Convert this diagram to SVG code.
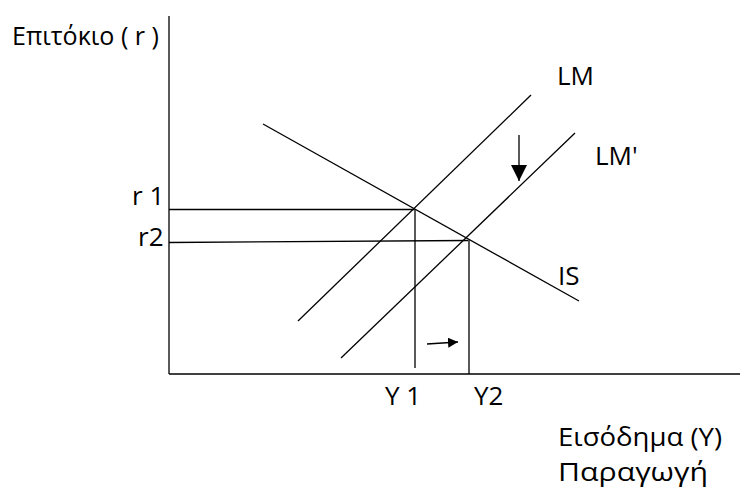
<svg xmlns="http://www.w3.org/2000/svg" width="743" height="491" viewBox="0 0 743 491">
<style>
.ln{stroke:#000;stroke-width:1.3;fill:none}
text{font-family:"Open Sans","Noto Sans","DejaVu Sans",sans-serif;font-size:26px;fill:#000}
</style>
<defs>
<marker id="ah" viewBox="0 0 10 10" refX="10" refY="5" markerWidth="10" markerHeight="10" markerUnits="userSpaceOnUse" orient="auto">
<path d="M0,0 L10,5 L0,10 Z" fill="#000"/>
</marker>
<marker id="ahd" viewBox="0 0 10 10" refX="10" refY="5" markerWidth="16" markerHeight="16" markerUnits="userSpaceOnUse" orient="auto">
<path d="M0,0 L10,5 L0,10 Z" fill="#000"/>
</marker>
</defs>
<rect width="743" height="491" fill="#fff"/>
<g id="axes">
<line class="ln" x1="169" y1="16" x2="169" y2="374"/>
<line class="ln" x1="169" y1="374" x2="740" y2="374"/>
</g>
<g id="connectors">
<line class="ln" x1="298" y1="321" x2="531" y2="95"/>
<line class="ln" x1="341" y1="358" x2="575" y2="133"/>
<line class="ln" x1="263" y1="124" x2="579" y2="301"/>
<line class="ln" x1="169" y1="209.5" x2="414" y2="209.5"/>
<line class="ln" x1="169" y1="242.5" x2="468" y2="240.5"/>
<line class="ln" x1="415" y1="209" x2="415" y2="368"/>
<line class="ln" x1="469" y1="240" x2="469" y2="374"/>
<line class="ln" x1="519" y1="135" x2="519" y2="181" marker-end="url(#ahd)"/>
<line class="ln" x1="427" y1="344" x2="458" y2="342" marker-end="url(#ah)"/>
</g>
<g id="labels">
<text x="12" y="45" textLength="147" lengthAdjust="spacingAndGlyphs">Επιτόκιο ( r )</text>
<text x="557" y="85">LM</text>
<text x="595" y="165">LM'</text>
<text x="558" y="285">IS</text>
<text x="132" y="205">r 1</text>
<text x="138" y="246">r2</text>
<text x="385" y="405">Y 1</text>
<text x="474" y="405">Y2</text>
<text x="558" y="446" textLength="164" lengthAdjust="spacingAndGlyphs">Εισόδημα (Y)</text>
<text x="558" y="481" textLength="150" lengthAdjust="spacingAndGlyphs">Παραγωγή</text>
</g>
</svg>
